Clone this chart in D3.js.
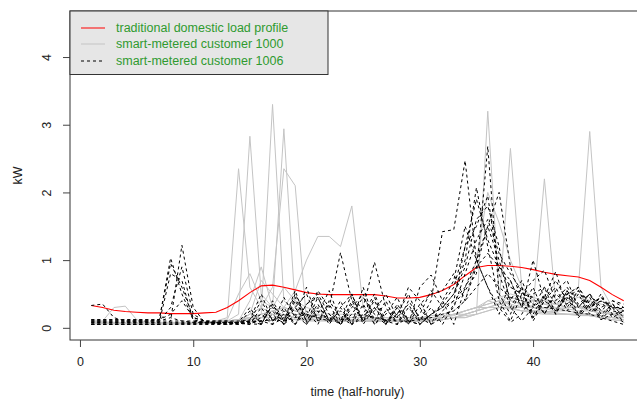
<!DOCTYPE html>
<html>
<head>
<meta charset="utf-8">
<script src="https://cdn.jsdelivr.net/npm/d3@7"></script>
<style>
  html, body { margin: 0; padding: 0; background: #fff; }
  svg { display: block; font-family: "Liberation Sans", Arial, sans-serif; }
</style>
</head>
<body>
<svg id="chart" width="637" height="402"></svg>
<script>
// ---------------- data ----------------
const halfHours = d3.range(1, 49);
const xTicks = [0, 10, 20, 30, 40];
const yTicks = [0, 1, 2, 3, 4];
const legendLabels = ["traditional domestic load profile", "smart-metered customer 1000", "smart-metered customer 1006"];
const xTitle = "time (half-horuly)";
const yTitle = "kW";

// traditional domestic load profile (kW)
const traditional = [0.33,0.30,0.26,0.24,0.23,0.22,0.22,0.21,0.21,0.21,0.22,0.23,
  0.30,0.40,0.52,0.62,0.63,0.60,0.56,0.52,0.50,0.49,0.49,0.49,
  0.49,0.49,0.47,0.44,0.44,0.45,0.49,0.55,0.64,0.77,0.89,0.92,
  0.92,0.91,0.89,0.86,0.82,0.79,0.77,0.75,0.70,0.60,0.49,0.40];

// smart-metered customer 1000, one array per day
const c1000_d1 = [0.10,0.08,0.08,0.07,0.07,0.07,0.08,0.07,0.07,0.08,0.07,0.08,
  0.10,0.12,0.15,0.20,3.30,0.40,0.25,0.20,0.18,0.15,0.15,0.20,
  0.18,0.15,0.15,0.12,0.12,0.15,0.15,0.18,0.20,0.25,0.30,0.35,
  0.40,0.35,0.30,0.30,0.28,0.25,0.25,0.22,0.20,0.18,0.15,0.12];
const c1000_d2 = [0.12,0.10,0.30,0.32,0.12,0.08,0.07,0.07,0.08,0.07,0.08,0.10,
  0.15,2.35,0.60,0.30,0.20,0.18,0.15,0.15,0.12,0.12,0.12,0.10,
  0.10,0.10,0.10,0.10,0.10,0.12,0.12,0.15,0.20,0.20,0.25,0.40,
  0.35,0.30,0.30,0.25,0.25,0.22,0.20,0.20,0.18,0.18,0.15,0.15];
const c1000_d3 = [0.08,0.08,0.07,0.07,0.07,0.07,0.07,0.07,0.07,0.07,0.07,0.08,
  0.10,0.20,2.83,0.50,0.30,0.25,0.20,0.18,0.15,0.15,0.12,0.12,
  0.12,0.12,0.12,0.10,0.10,0.10,0.12,0.15,0.18,0.25,0.30,0.30,
  0.35,0.40,0.35,0.30,0.30,0.28,0.30,0.32,0.30,0.25,0.20,0.18];
const c1000_d4 = [0.07,0.07,0.06,0.06,0.06,0.06,0.06,0.06,0.07,0.07,0.07,0.08,
  0.08,0.10,0.40,0.90,0.30,2.94,0.30,0.20,0.15,0.15,0.12,0.12,
  0.10,0.10,0.10,0.10,0.10,0.10,0.12,0.12,0.15,0.20,0.25,0.30,
  0.30,0.30,0.25,0.25,0.22,0.25,0.30,0.30,0.28,0.25,0.20,0.15];
const c1000_d5 = [0.06,0.06,0.06,0.06,0.06,0.06,0.06,0.06,0.06,0.06,0.06,0.07,
  0.08,0.10,0.20,0.30,0.60,2.35,2.10,0.10,0.10,0.10,0.10,0.10,
  0.10,0.10,0.10,0.10,0.10,0.10,0.10,0.12,0.15,0.18,0.20,0.25,
  0.30,0.40,0.35,0.30,0.25,0.22,0.20,0.20,0.18,0.15,0.12,0.10];
const c1000_d6 = [0.07,0.07,0.07,0.06,0.06,0.06,0.06,0.06,0.06,0.06,0.07,0.08,
  0.10,0.12,0.15,0.20,0.25,0.30,0.55,1.00,1.35,1.35,1.20,1.80,
  0.30,0.15,0.12,0.10,0.10,0.10,0.12,0.12,0.15,0.20,0.25,0.30,
  0.30,0.28,0.25,0.22,0.20,0.20,0.20,0.18,0.18,0.15,0.12,0.10];
const c1000_d7 = [0.08,0.07,0.07,0.07,0.06,0.06,0.06,0.06,0.06,0.07,0.07,0.08,
  0.10,0.10,0.12,0.15,0.15,0.15,0.12,0.12,0.12,0.10,0.10,0.10,
  0.10,0.10,0.10,0.10,0.10,0.10,0.10,0.12,0.15,0.15,0.20,3.20,
  0.50,0.30,0.25,0.25,0.22,0.20,0.20,0.20,0.18,0.18,0.15,0.12];
const c1000_d8 = [0.06,0.06,0.06,0.06,0.06,0.06,0.06,0.06,0.06,0.06,0.06,0.07,
  0.08,0.10,0.12,0.15,0.20,0.20,0.15,0.12,0.12,0.12,0.10,0.10,
  0.10,0.10,0.10,0.10,0.10,0.10,0.12,0.12,0.15,0.20,0.25,0.30,
  0.35,2.65,0.60,0.40,0.35,0.30,0.28,0.25,0.25,0.22,0.20,0.18];
const c1000_d9 = [0.07,0.07,0.07,0.07,0.07,0.07,0.07,0.07,0.07,0.07,0.07,0.08,
  0.10,0.12,0.15,0.20,0.25,0.30,0.25,0.20,0.15,0.15,0.15,0.12,
  0.12,0.12,0.10,0.10,0.10,0.12,0.12,0.15,0.20,0.25,0.30,0.35,
  0.40,0.45,0.40,0.30,2.20,0.35,0.30,0.30,0.25,0.22,0.20,0.18];
const c1000_d10 = [0.08,0.08,0.07,0.07,0.07,0.07,0.07,0.07,0.07,0.07,0.07,0.08,
  0.10,0.12,0.15,0.15,0.15,0.15,0.12,0.12,0.12,0.12,0.10,0.10,
  0.10,0.10,0.10,0.10,0.10,0.10,0.12,0.12,0.15,0.15,0.20,0.25,
  0.30,0.30,0.35,0.40,0.40,0.40,0.50,0.60,2.90,0.60,0.30,0.25];
const c1000_d11 = [0.10,0.09,0.08,0.08,0.08,0.08,0.08,0.08,0.08,0.08,0.08,0.10,
  0.12,0.50,0.80,0.40,0.30,0.60,0.40,0.30,0.25,0.20,0.20,0.20,
  0.18,0.15,0.15,0.15,0.15,0.15,0.18,0.20,0.25,0.40,1.00,2.00,
  1.55,1.00,0.60,0.45,0.40,0.35,0.30,0.30,0.28,0.25,0.22,0.20];
const c1000_d12 = [0.08,0.08,0.08,0.08,0.08,0.08,0.08,0.08,0.08,0.08,0.08,0.10,
  0.10,0.12,0.20,0.70,0.50,0.30,0.25,0.20,0.20,0.15,0.15,0.15,
  0.15,0.12,0.12,0.12,0.12,0.12,0.15,0.15,0.20,0.25,0.30,0.40,
  0.45,0.50,0.45,0.40,0.35,0.35,0.40,0.45,0.40,0.35,0.30,0.25];

// smart-metered customer 1006, one array per day
const c1006_d1 = [0.10,0.10,0.10,0.10,0.10,0.10,0.12,1.03,0.50,0.12,0.08,0.08,
  0.05,0.08,0.30,0.05,0.40,0.10,0.55,0.08,0.45,0.10,0.30,0.05,
  0.60,0.10,0.40,0.05,0.30,0.10,0.40,1.42,1.45,2.47,1.00,0.60,
  0.20,0.70,0.30,0.60,0.20,0.50,0.35,0.55,0.30,0.40,0.30,0.28];
const c1006_d2 = [0.05,0.05,0.05,0.05,0.05,0.05,0.05,0.10,1.22,0.30,0.08,0.06,
  0.06,0.06,0.06,0.05,0.20,0.05,0.45,0.10,0.35,0.05,0.30,0.50,
  0.10,0.30,0.05,0.20,0.50,0.10,0.30,0.05,0.35,0.55,0.80,2.68,
  0.50,0.20,0.60,0.15,0.40,0.60,0.25,0.50,0.20,0.40,0.15,0.25];
const c1006_d3 = [0.12,0.12,0.12,0.12,0.12,0.12,0.12,0.95,0.60,0.15,0.10,0.10,
  0.10,0.10,0.12,0.50,0.10,0.25,0.05,0.35,0.45,0.10,0.25,0.05,
  0.15,0.40,0.05,0.30,0.10,0.20,0.55,0.30,0.50,1.00,2.07,1.20,
  0.40,0.10,0.50,0.45,0.20,0.55,0.70,0.30,0.50,0.20,0.35,0.25];
const c1006_d4 = [0.33,0.35,0.15,0.10,0.10,0.10,0.10,0.30,0.90,0.20,0.10,0.08,
  0.08,0.05,0.25,0.05,0.35,0.10,0.50,0.15,0.55,0.30,1.11,0.40,
  0.10,0.45,0.05,0.35,0.10,0.05,0.20,0.30,0.50,0.90,1.60,1.80,
  1.20,0.30,0.60,0.10,0.40,0.25,0.55,0.20,0.45,0.15,0.35,0.15];
const c1006_d5 = [0.08,0.08,0.08,0.08,0.08,0.08,0.08,0.80,0.70,0.10,0.08,0.08,
  0.08,0.08,0.05,0.30,0.05,0.45,0.15,0.60,0.10,0.35,0.05,0.40,
  0.30,0.97,0.30,0.05,0.40,0.15,0.05,0.25,0.40,1.20,1.90,1.30,
  0.90,0.70,0.30,1.00,0.40,0.70,0.40,0.60,0.30,0.45,0.25,0.22];
const c1006_d6 = [0.10,0.10,0.10,0.10,0.10,0.10,0.10,0.15,0.10,0.08,0.08,0.08,
  0.08,0.08,0.10,0.05,0.35,0.05,0.40,0.10,0.20,0.55,0.10,0.50,
  0.05,0.30,0.10,0.20,0.05,0.60,0.78,0.40,0.05,0.60,1.00,1.50,
  1.00,0.40,0.70,0.30,0.45,0.83,0.30,0.55,0.25,0.50,0.20,0.25];
const c1006_d7 = [0.05,0.05,0.05,0.05,0.05,0.05,0.05,0.05,0.06,0.06,0.06,0.06,
  0.06,0.06,0.08,0.10,0.05,0.30,0.05,0.25,0.05,0.40,0.15,0.05,
  0.35,0.05,0.20,0.45,0.10,0.05,0.20,0.35,0.60,1.20,1.50,1.95,
  0.80,0.30,0.10,0.30,0.60,0.20,0.55,0.30,0.50,0.25,0.40,0.30];
const c1006_d8 = [0.10,0.10,0.10,0.10,0.10,0.10,0.10,0.10,0.10,0.10,0.08,0.08,
  0.08,0.08,0.10,0.20,0.05,0.15,0.30,0.05,0.25,0.10,0.40,0.05,
  0.20,0.50,0.10,0.05,0.15,0.30,0.05,0.40,0.70,1.50,1.00,0.60,
  0.30,0.08,0.20,0.50,0.60,0.35,0.50,0.60,0.35,0.45,0.30,0.30];
const c1006_d9 = [0.06,0.06,0.06,0.06,0.06,0.06,0.06,0.06,0.06,0.06,0.06,0.06,
  0.07,0.08,0.05,0.15,0.30,0.05,0.30,0.50,0.10,0.20,0.05,0.35,
  0.10,0.25,0.50,0.15,0.60,0.40,0.05,0.15,0.30,0.80,1.30,1.60,
  1.10,0.80,0.55,0.20,0.50,0.25,0.45,0.15,0.35,0.12,0.20,0.08];
const c1006_d10 = [0.12,0.12,0.12,0.12,0.12,0.12,0.12,0.20,0.40,0.15,0.10,0.10,
  0.10,0.05,0.10,0.40,0.10,0.20,0.05,0.35,0.50,0.20,0.05,0.30,
  0.50,0.05,0.25,0.15,0.35,0.05,0.20,0.30,0.40,0.60,0.90,1.10,
  0.90,0.60,0.50,0.70,0.85,0.40,0.60,0.35,0.50,0.30,0.40,0.35];
const c1006_d11 = [0.08,0.08,0.08,0.08,0.08,0.08,0.08,0.08,0.08,0.08,0.08,0.08,
  0.08,0.08,0.10,0.10,0.25,0.05,0.20,0.05,0.30,0.15,0.05,0.20,
  0.45,0.20,0.05,0.30,0.05,0.35,0.50,0.55,0.80,0.40,0.90,1.50,
  2.00,0.90,0.40,0.15,0.45,0.20,0.50,0.18,0.40,0.12,0.30,0.08];
const c1006_d12 = [0.05,0.05,0.05,0.05,0.05,0.05,0.05,0.05,0.05,0.05,0.05,0.05,
  0.05,0.06,0.08,0.10,0.12,0.10,0.15,0.20,0.15,0.10,0.12,0.15,
  0.20,0.15,0.12,0.10,0.10,0.12,0.15,0.20,0.25,0.40,0.60,0.80,
  0.60,0.45,0.40,0.35,0.30,0.28,0.25,0.22,0.20,0.15,0.10,0.05];

const customer1000 = [c1000_d1,c1000_d2,c1000_d3,c1000_d4,c1000_d5,c1000_d6,c1000_d7,c1000_d8,c1000_d9,c1000_d10,c1000_d11,c1000_d12];
const customer1006 = [c1006_d1,c1006_d2,c1006_d3,c1006_d4,c1006_d5,c1006_d6,c1006_d7,c1006_d8,c1006_d9,c1006_d10,c1006_d11,c1006_d12];

// ---------------- drawing ----------------
const svg = d3.select("#chart");
const x = d3.scaleLinear().domain([-0.88, 49.88]).range([70, 645]);
const y = d3.scaleLinear().domain([-0.18, 4.68]).range([340, 11]);

const line = d3.line().x((d, i) => x(halfHours[i])).y(d => y(d));

const plot = svg.append("g");

plot.selectAll("path.c1000").data(customer1000).join("path")
  .attr("class", "c1000")
  .attr("d", line)
  .attr("fill", "none")
  .attr("stroke", "#c4c4c4")
  .attr("stroke-width", 1);

plot.append("path")
  .datum(traditional)
  .attr("d", line)
  .attr("fill", "none")
  .attr("stroke", "#ff0000")
  .attr("stroke-width", 1.1);

plot.selectAll("path.c1006").data(customer1006).join("path")
  .attr("class", "c1006")
  .attr("d", line)
  .attr("fill", "none")
  .attr("stroke", "#000")
  .attr("stroke-width", 1)
  .attr("stroke-dasharray", "3,3");

// box
svg.append("rect")
  .attr("x", 70).attr("y", 11)
  .attr("width", 645 - 70).attr("height", 340 - 11)
  .attr("fill", "none").attr("stroke", "#333").attr("stroke-width", 1);

// x axis
const xAxis = svg.append("g")
  .attr("transform", "translate(0,340)")
  .call(d3.axisBottom(x).tickValues(xTicks).tickSize(7).tickPadding(10).tickFormat(d3.format("d")));
xAxis.select(".domain").remove();
xAxis.selectAll(".tick line").attr("stroke", "#444");
xAxis.selectAll("text").attr("font-size", 12.5).attr("fill", "#222")
  .attr("font-family", "Liberation Sans, Arial, sans-serif");

// y axis
const yAxis = svg.append("g")
  .attr("transform", "translate(70,0)")
  .call(d3.axisLeft(y).tickValues(yTicks).tickSize(7).tickFormat(d3.format("d")));
yAxis.select(".domain").remove();
yAxis.selectAll(".tick line").attr("stroke", "#444");
yAxis.selectAll(".tick text")
  .attr("font-size", 12.5).attr("fill", "#222")
  .attr("font-family", "Liberation Sans, Arial, sans-serif")
  .attr("x", 0).attr("dy", 0)
  .attr("text-anchor", "middle")
  .attr("transform", "translate(-23,0) rotate(-90)")
  .attr("dominant-baseline", "central");

// axis titles
svg.append("text")
  .attr("x", (70 + 645) / 2).attr("y", 396)
  .attr("text-anchor", "middle")
  .attr("font-size", 12.5).attr("fill", "#222")
  .text(xTitle);
svg.append("text")
  .attr("transform", `translate(18,${(11 + 340) / 2}) rotate(-90)`)
  .attr("text-anchor", "middle")
  .attr("dominant-baseline", "central")
  .attr("font-size", 12.5).attr("fill", "#222")
  .text(yTitle);

// legend
const leg = svg.append("g");
leg.append("rect")
  .attr("x", 70).attr("y", 11).attr("width", 258).attr("height", 63.5)
  .attr("fill", "#e6e6e6").attr("stroke", "#333").attr("stroke-width", 1);
const legStyles = [
  {stroke: "#ff0000", dash: null},
  {stroke: "#c4c4c4", dash: null},
  {stroke: "#000", dash: "3,3"}
];
const legRows = [28, 44, 61];
legendLabels.forEach((lab, i) => {
  leg.append("line")
    .attr("x1", 81).attr("x2", 105)
    .attr("y1", legRows[i]).attr("y2", legRows[i])
    .attr("stroke", legStyles[i].stroke).attr("stroke-width", 1)
    .attr("stroke-dasharray", legStyles[i].dash);
  leg.append("text")
    .attr("x", 116).attr("y", legRows[i])
    .attr("dominant-baseline", "central")
    .attr("font-size", 12.5).attr("fill", "#2f9a2f")
    .text(lab);
});
</script>
</body>
</html>
